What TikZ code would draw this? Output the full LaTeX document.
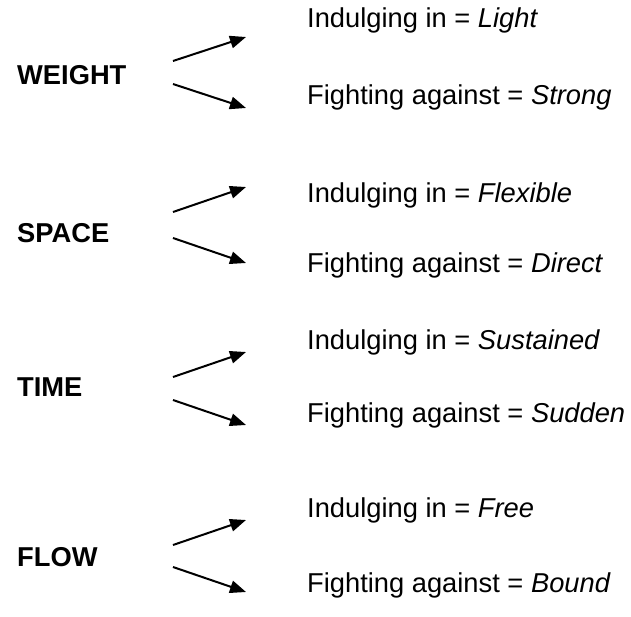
\documentclass[tikz,border=0pt]{standalone}
\usepackage{fontspec}
\setmainfont{Liberation Sans}
\usetikzlibrary{arrows.meta}
\begin{document}
\begin{tikzpicture}[x=1pt,y=-1pt,
  lab/.style={anchor=base west,inner sep=0pt,font=\fontsize{27.3}{32}\selectfont\bfseries},
  txt/.style={anchor=base west,inner sep=0pt,font=\fontsize{27.3}{32}\selectfont},
  arr/.style={line width=2pt,-{Triangle[length=16pt,width=12.5pt]}}]
\useasboundingbox (0,0) rectangle (631,616);
% WEIGHT
\node[lab] (w) at (17,84) {WEIGHT};
\node[txt] (w1) at (307,27) {Indulging in = \textit{Light}};
\node[txt] (w2) at (307,104) {Fighting against = \textit{Strong}};
\coordinate (w1s) at (173,61); \coordinate (w1e) at (246,37);
\coordinate (w2s) at (173,84); \coordinate (w2e) at (246,108);
\draw[arr] (w1s) -- (w1e);
\draw[arr] (w2s) -- (w2e);
% SPACE
\node[lab] (s) at (17,242) {SPACE};
\node[txt] (s1) at (307,202) {Indulging in = \textit{Flexible}};
\node[txt] (s2) at (307,272) {Fighting against = \textit{Direct}};
\coordinate (s1s) at (173,212); \coordinate (s1e) at (246,187);
\coordinate (s2s) at (173,238); \coordinate (s2e) at (246,263);
\draw[arr] (s1s) -- (s1e);
\draw[arr] (s2s) -- (s2e);
% TIME
\node[lab] (t) at (17,396) {TIME};
\node[txt] (t1) at (307,349) {Indulging in = \textit{Sustained}};
\node[txt] (t2) at (307,422) {Fighting against = \textit{Sudden}};
\coordinate (t1s) at (173,377); \coordinate (t1e) at (246,352);
\coordinate (t2s) at (173,400); \coordinate (t2e) at (246,425);
\draw[arr] (t1s) -- (t1e);
\draw[arr] (t2s) -- (t2e);
% FLOW
\node[lab] (f) at (17,566) {FLOW};
\node[txt] (f1) at (307,517) {Indulging in = \textit{Free}};
\node[txt] (f2) at (307,592) {Fighting against = \textit{Bound}};
\coordinate (f1s) at (173,545); \coordinate (f1e) at (246,520);
\coordinate (f2s) at (173,567); \coordinate (f2e) at (246,592);
\draw[arr] (f1s) -- (f1e);
\draw[arr] (f2s) -- (f2e);
\end{tikzpicture}
\end{document}
